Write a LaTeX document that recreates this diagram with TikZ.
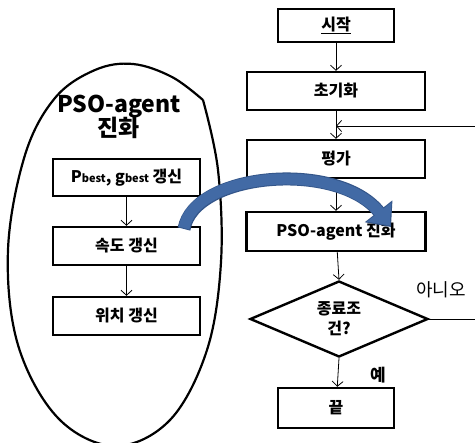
\documentclass[tikz,border=0pt]{standalone}
\usepackage{fontspec}
\setmainfont{Noto Sans CJK KR}
\usetikzlibrary{arrows.meta,shapes.geometric}
\definecolor{bandblue}{RGB}{66,106,165}
\definecolor{banddark}{RGB}{52,86,138}
\begin{document}
\begin{tikzpicture}[x=1pt,y=-1pt,
  box/.style={draw, line width=2.4pt, inner sep=0pt, font=\bfseries\fontsize{16}{18}\selectfont},
  flow/.style={-{Straight Barb[length=5pt,width=11pt]}, line width=0.8pt},
  plain/.style={line width=0.8pt}]
\useasboundingbox (0,0) rectangle (475,443);
% left ellipse-like freeform
\draw[line width=2.2pt] plot[smooth, tension=0.6] coordinates {(203,100) (172,77) (133,64) (95,70) (55,98) (25,155) (8,250) (18,345) (58,418) (115,446) (170,420) (207,350) (221,262) (218,170) (203,100)};
\node[font=\bfseries\fontsize{23}{27}\selectfont, align=center] (title) at (119,117) {PSO-agent\\[-3pt]진화};
% left boxes
\node[box, minimum width=147pt, minimum height=37pt] (pb) at (126.5,177.5) {P{\fontsize{11}{11}\selectfont best}, g{\fontsize{11}{11}\selectfont best} 갱신};
\node[box, minimum width=147pt, minimum height=38pt] (sp) at (126.5,246) {속도 갱신};
\node[box, minimum width=147pt, minimum height=38pt] (po) at (126.5,316) {위치 갱신};
\draw[flow] (pb) -- (sp);
\draw[flow] (sp) -- (po);
% right flow
\node[box, minimum width=116pt, minimum height=33pt] (st) at (336,25.5) {\underline{시작}};
\node[box, minimum width=178pt, minimum height=38pt] (in) at (336,91) {초기화};
\node[box, minimum width=178pt, minimum height=38pt] (ev) at (336,159) {평가};
\node[box, minimum width=179pt, minimum height=39pt] (ps) at (336,231.5) {PSO-agent 진화};
\node[draw, line width=2.4pt, diamond, aspect=2.35, minimum width=178pt, minimum height=76pt, inner sep=0pt, align=center, font=\bfseries\fontsize{16}{20}\selectfont] (dc) at (339,319) {종료조\\건?};
\node[box, minimum width=116pt, minimum height=40pt] (en) at (336,408) {끝};
\draw[flow] (st) -- (in);
\draw[flow] (in) -- (ev);
\draw[flow] (ev) -- (ps);
\draw[flow] (ps) -- (dc.north);
\draw[flow] (dc.south) -- (en);
\coordinate (r1) at (478,319);
\coordinate (r2) at (478,126);
\coordinate (jn) at (in.south |- r2);
\draw[plain] (dc.east) -- (r1) -- (r2);
\draw[flow] (r2) -- (jn);
\node[font=\fontsize{18}{20}\selectfont] (no) at (441,290) {아니오};
\node[font=\bfseries\fontsize{17}{19}\selectfont] (yes) at (378,375) {예};
% blue curved arrow
\draw[banddark, line width=13pt, -{Triangle[length=20pt,width=34pt]}] (184,229) .. controls (194,172) and (338,160) .. (391,227);
\draw[bandblue, line width=11pt, -{Triangle[length=17pt,width=30pt]}, shorten >=2pt] (184,228) .. controls (194,172) and (338,160) .. (391,227);
\end{tikzpicture}
\end{document}
